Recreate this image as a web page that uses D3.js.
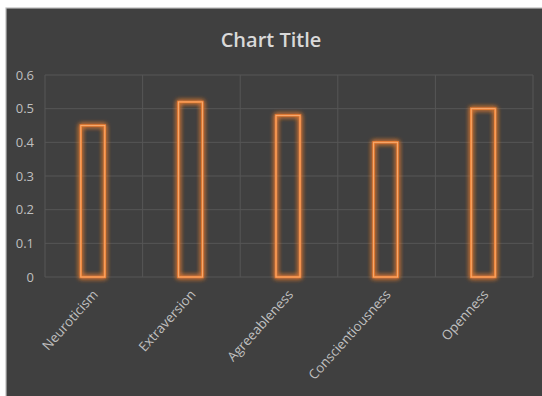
<html>
<head>
<style>
    body { margin: 0; padding: 0; background: white; }
    svg { display: block; }
</style>
<script src="https://cdn.jsdelivr.net/npm/d3@7"></script>
</head>
<body>
<svg width="542" height="396"></svg>
<script>
    // data
    const categories = ["Neuroticism", "Extraversion", "Agreeableness", "Conscientiousness", "Openness"];
    const values = [0.45, 0.52, 0.48, 0.40, 0.50];
    const yTicks = [0, 0.1, 0.2, 0.3, 0.4, 0.5, 0.6];

    const svg = d3.select("svg");
    const font = "'Open Sans', 'Noto Sans', sans-serif";

    // chart area frame (white page round it, grey edge line)
    svg.append("rect")
        .attr("x", 6).attr("y", 8)
        .attr("width", 540).attr("height", 392)
        .attr("fill", "#404040")
        .attr("stroke", "#bdbdbd")
        .attr("stroke-width", 1.2);

    // glow for the bars
    const defs = svg.append("defs");
    const glow = defs.append("filter").attr("id", "glow")
        .attr("x", "-50%").attr("y", "-20%").attr("width", "200%").attr("height", "140%");
    glow.append("feGaussianBlur").attr("in", "SourceGraphic").attr("stdDeviation", 2.6).attr("result", "blur");
    const merge = glow.append("feMerge");
    merge.append("feMergeNode").attr("in", "blur");
    merge.append("feMergeNode").attr("in", "blur");
    merge.append("feMergeNode").attr("in", "SourceGraphic");

    const plot = { left: 45, right: 533, top: 75, bottom: 277 };

    const x = d3.scaleBand()
        .domain(categories)
        .range([plot.left, plot.right])
        .paddingInner(0).paddingOuter(0);

    const y = d3.scaleLinear()
        .domain([0, 0.6])
        .range([plot.bottom, plot.top]);

    // horizontal gridlines
    svg.append("g")
        .selectAll("line")
        .data(yTicks)
        .join("line")
        .attr("x1", plot.left).attr("x2", plot.right)
        .attr("y1", d => y(d)).attr("y2", d => y(d))
        .attr("stroke", "#565656")
        .attr("stroke-width", 1);

    // vertical gridlines at category borders
    const borders = categories.map(c => x(c)).concat([plot.right]);
    svg.append("g")
        .selectAll("line")
        .data(borders)
        .join("line")
        .attr("x1", d => d).attr("x2", d => d)
        .attr("y1", plot.top).attr("y2", plot.bottom)
        .attr("stroke", "#565656")
        .attr("stroke-width", 1);

    // y axis labels
    const yAxis = d3.axisLeft(y)
        .tickValues(yTicks)
        .tickFormat(d => d === 0 ? "0" : d3.format(".1f")(d))
        .tickSize(0)
        .tickPadding(11);
    svg.append("g")
        .attr("transform", `translate(${plot.left},0)`)
        .call(yAxis)
        .call(g => g.select(".domain").remove())
        .selectAll("text")
        .attr("fill", "#bfbfbf")
        .attr("font-family", font)
        .attr("font-size", "13px");

    // bars
    const barW = 24;
    svg.append("g")
        .selectAll("rect")
        .data(values)
        .join("rect")
        .attr("x", (d, i) => x(categories[i]) + x.bandwidth() / 2 - barW / 2 - 1)
        .attr("y", d => y(d))
        .attr("width", barW)
        .attr("height", d => y(0) - y(d))
        .attr("fill", "none")
        .attr("stroke", "#ee7f33")
        .attr("stroke-width", 2.4)
        .attr("filter", "url(#glow)");

    // inner light line on the outline
    svg.append("g")
        .selectAll("rect")
        .data(values)
        .join("rect")
        .attr("x", (d, i) => x(categories[i]) + x.bandwidth() / 2 - barW / 2 - 1)
        .attr("y", d => y(d))
        .attr("width", barW)
        .attr("height", d => y(0) - y(d))
        .attr("fill", "none")
        .attr("stroke", "#f7b27a")
        .attr("stroke-width", 0.8);

    // x labels, rotated
    svg.append("g")
        .selectAll("text")
        .data(categories)
        .join("text")
        .attr("transform", d => `translate(${x(d) + x.bandwidth() / 2 + 5},${plot.bottom + 18}) rotate(-48)`)
        .attr("text-anchor", "end")
        .attr("fill", "#bfbfbf")
        .attr("font-family", font)
        .attr("font-size", "13.3px")
        .text(d => d);

    // title
    svg.append("text")
        .attr("x", 271)
        .attr("y", 47)
        .attr("text-anchor", "middle")
        .attr("fill", "#d9d9d9")
        .attr("font-family", font)
        .attr("font-weight", "600")
        .attr("font-size", "20px")
        .text("Chart Title");
</script>
</body>
</html>
